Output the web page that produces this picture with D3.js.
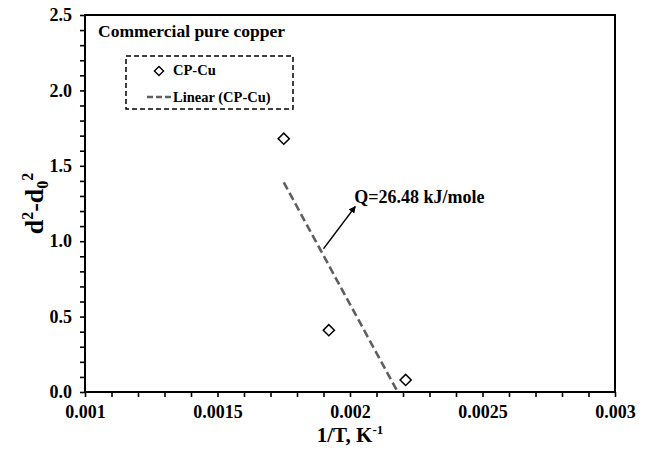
<!DOCTYPE html>
<html>
<head>
<meta charset="utf-8">
<script src="https://cdn.jsdelivr.net/npm/d3@7"></script>
<style>
  html, body { margin: 0; padding: 0; background: #fff; }
  svg { display: block; font-family: "Liberation Serif", "Times New Roman", serif; font-weight: bold; }
</style>
</head>
<body>
<svg id="chart" width="648" height="457"></svg>
<script>
// ---- data ----
const seriesName = "CP-Cu";
const trendName = "Linear (CP-Cu)";
const seriesX = [0.00175, 0.00192, 0.00221];
const seriesY = [1.68, 0.41, 0.08];
const trendX = [0.00175, 0.00218];
const trendY = [1.39, 0.0];
const arrowX = [0.0019, 0.00202];
const arrowY = [0.95, 1.23];
const xTickValues = [0.001, 0.0015, 0.002, 0.0025, 0.003];
const xTickLabels = ["0.001", "0.0015", "0.002", "0.0025", "0.003"];
const yTickValues = [0, 0.5, 1.0, 1.5, 2.0, 2.5];
const yTickLabels = ["0.0", "0.5", "1.0", "1.5", "2.0", "2.5"];
const titleText = "Commercial pure copper";
const annotationText = "Q=26.48 kJ/mole";

// ---- layout ----
const W = 648, H = 457;
const plot = { left: 85, right: 615, top: 15, bottom: 392 };
const svg = d3.select("#chart");

const x = d3.scaleLinear().domain([0.001, 0.003]).range([plot.left, plot.right]);
const y = d3.scaleLinear().domain([0, 2.5]).range([plot.bottom, plot.top]);

// minor ticks
const xMinor = d3.range(0, 21).map(i => 0.001 + i * 0.0001);
const yMinor = d3.range(0, 26).map(i => i * 0.1);

const gxMinor = svg.append("g").attr("transform", `translate(0,${plot.bottom})`)
  .call(d3.axisBottom(x).tickValues(xMinor).tickSize(5).tickFormat(""));
gxMinor.select(".domain").remove();
gxMinor.selectAll("line").attr("stroke", "#000").attr("stroke-width", 1.6);

const gyMinor = svg.append("g").attr("transform", `translate(${plot.left},0)`)
  .call(d3.axisLeft(y).tickValues(yMinor).tickSize(5).tickFormat(""));
gyMinor.select(".domain").remove();
gyMinor.selectAll("line").attr("stroke", "#000").attr("stroke-width", 1.6);

// labels
const gx = svg.append("g").attr("transform", `translate(0,${plot.bottom})`)
  .call(d3.axisBottom(x).tickValues(xTickValues).tickSize(0).tickPadding(13)
    .tickFormat((d, i) => xTickLabels[i]));
gx.select(".domain").remove();
gx.selectAll("text").attr("font-size", 18).attr("font-family", "Liberation Serif").attr("font-weight", "bold").attr("fill", "#000");

const gy = svg.append("g").attr("transform", `translate(${plot.left},0)`)
  .call(d3.axisLeft(y).tickValues(yTickValues).tickSize(0).tickPadding(13)
    .tickFormat((d, i) => yTickLabels[i]));
gy.select(".domain").remove();
gy.selectAll("text").attr("font-size", 18).attr("font-family", "Liberation Serif").attr("font-weight", "bold").attr("fill", "#000");

// frame
svg.append("rect")
  .attr("x", plot.left).attr("y", plot.top)
  .attr("width", plot.right - plot.left).attr("height", plot.bottom - plot.top)
  .attr("fill", "none").attr("stroke", "#000").attr("stroke-width", 2);

// clip for trendline
svg.append("clipPath").attr("id", "clip").append("rect")
  .attr("x", plot.left).attr("y", plot.top)
  .attr("width", plot.right - plot.left).attr("height", plot.bottom - plot.top);

// trend line
const trendPts = trendX.map((v, i) => [v, trendY[i]]);
svg.append("path")
  .datum(trendPts)
  .attr("clip-path", "url(#clip)")
  .attr("d", d3.line().x(d => x(d[0])).y(d => y(d[1])))
  .attr("fill", "none").attr("stroke", "#5f5f5f").attr("stroke-width", 2.6)
  .attr("stroke-dasharray", "8,4");

// markers
const diamond = d3.symbol().type(d3.symbolSquare).size(62);
const pts = seriesX.map((v, i) => [v, seriesY[i]]);
svg.append("g").selectAll("path").data(pts).join("path")
  .attr("d", diamond)
  .attr("transform", d => `translate(${x(d[0])},${y(d[1])}) rotate(45)`)
  .attr("fill", "#fff").attr("stroke", "#000").attr("stroke-width", 1.5);

// arrow
const defs = svg.append("defs");
defs.append("marker").attr("id", "arrowhead")
  .attr("viewBox", "0 0 10 10").attr("refX", 9).attr("refY", 5)
  .attr("markerWidth", 7).attr("markerHeight", 7).attr("orient", "auto")
  .attr("markerUnits", "userSpaceOnUse")
  .append("path").attr("d", "M0,0 L10,5 L0,10 z").attr("fill", "#000");
svg.append("line")
  .attr("x1", x(arrowX[0])).attr("y1", y(arrowY[0]))
  .attr("x2", x(arrowX[1])).attr("y2", y(arrowY[1]))
  .attr("stroke", "#000").attr("stroke-width", 1.3)
  .attr("marker-end", "url(#arrowhead)");

// annotation text
svg.append("text").attr("x", x(arrowX[1]) - 1).attr("y", y(arrowY[1]) - 4)
  .attr("font-size", 18).attr("fill", "#000").text(annotationText);

// title inside plot
svg.append("text").attr("x", 98).attr("y", 37).attr("font-size", 17.5)
  .attr("fill", "#000").text(titleText);

// legend
const lg = svg.append("g");
lg.append("rect").attr("x", 126).attr("y", 56).attr("width", 167).attr("height", 53)
  .attr("fill", "#fff").attr("stroke", "#000").attr("stroke-width", 1.5)
  .attr("stroke-dasharray", "5,3");
lg.append("path").attr("d", diamond.size(42))
  .attr("transform", "translate(159,71) rotate(45)")
  .attr("fill", "#fff").attr("stroke", "#000").attr("stroke-width", 1.4);
lg.append("text").attr("x", 173).attr("y", 75).attr("font-size", 14.5).attr("fill", "#000").text(seriesName);
lg.append("line").attr("x1", 147).attr("x2", 172).attr("y1", 97).attr("y2", 97)
  .attr("stroke", "#5f5f5f").attr("stroke-width", 2.4).attr("stroke-dasharray", "6,3");
lg.append("text").attr("x", 173).attr("y", 101.5).attr("font-size", 14.5).attr("fill", "#000").text(trendName);

// x axis title
const xt = svg.append("text").attr("x", (plot.left + plot.right) / 2).attr("y", 442)
  .attr("text-anchor", "middle").attr("font-size", 21).attr("fill", "#000");
xt.append("tspan").text("1/T, K");
xt.append("tspan").attr("font-size", 13).attr("dy", -8).text("-1");

// y axis title
const yt = svg.append("text")
  .attr("transform", `translate(43,${(plot.top + plot.bottom) / 2}) rotate(-90)`)
  .attr("text-anchor", "middle").attr("font-size", 26).attr("fill", "#000");
yt.append("tspan").text("d");
yt.append("tspan").attr("font-size", 16).attr("dy", -10).text("2");
yt.append("tspan").attr("dy", 10).text("-d");
yt.append("tspan").attr("font-size", 16).attr("dy", 5).text("0");
yt.append("tspan").attr("font-size", 16).attr("dy", -15).text("2");
</script>
</body>
</html>
